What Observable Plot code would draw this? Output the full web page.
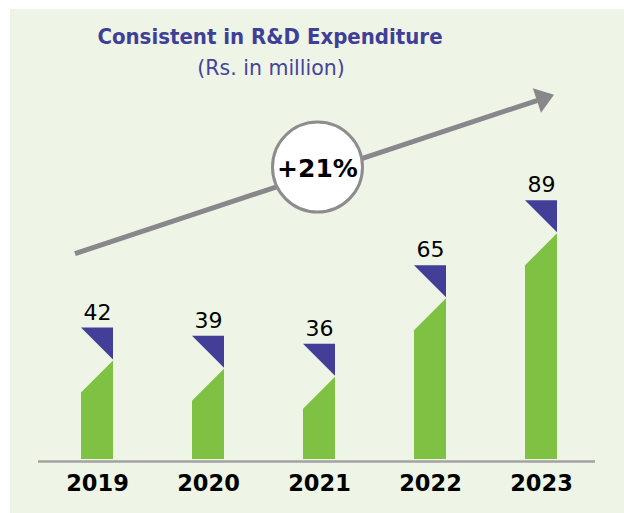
<!DOCTYPE html>
<html><head><meta charset="utf-8">
<script src="https://cdn.jsdelivr.net/npm/d3@7"></script>
<script src="https://cdn.jsdelivr.net/npm/@observablehq/plot@0.6"></script>
<style>
html,body{margin:0;padding:0;background:#fff;}
#wrap{position:relative;width:624px;height:513px;overflow:hidden;font-family:"DejaVu Sans",sans-serif;}
#panel{position:absolute;left:10px;top:9px;width:614px;height:504px;background:#eef4e6;}
#title{position:absolute;left:0;width:540px;top:26px;text-align:center;font-weight:bold;font-size:22px;line-height:22px;color:#3f3f98;font-family:"DejaVu Sans Condensed","DejaVu Sans",sans-serif;font-stretch:condensed;white-space:nowrap;}
#subtitle{position:absolute;left:0;width:542px;top:58px;text-align:center;font-size:20.5px;line-height:20px;color:#45449b;white-space:nowrap;}
#chart{position:absolute;left:0;top:84px;}
</style></head>
<body><div id="wrap"><div id="panel"></div><div id="title">Consistent in R&amp;D Expenditure</div><div id="subtitle">(Rs. in million)</div><div id="chart"></div></div>
<script>
// ---- data ----
const years = ["2019", "2020", "2021", "2022", "2023"];
const expenditure = [42, 39, 36, 65, 89];
const growthLabel = "+21%";
const badgeYear = "2021";
const badgeValue = 101.5;
const arrowFrom = {year: "2019", value: 69.3};
const arrowTo = {year: "2023", value: 128};
const yMin = -6.6, yMax = 100;

const GREEN = "#7fc142", BLUE = "#433f98", GRAY = "#88888b";

const rows = years.map((year, i) => ({year, value: expenditure[i]}));
const badge = [{year: badgeYear, value: badgeValue, label: growthLabel}];

function bwOf(x) { return typeof x.bandwidth === "function" ? x.bandwidth() : x.bandwidth; }

function flagBars(index, scales) {
  const x = scales.x, y = scales.y, bw = bwOf(x);
  const g = d3.create("svg:g");
  rows.forEach(d => {
    const x0 = x(d.year), x1 = x0 + bw;
    const top = y(d.value), base = y(yMin);
    g.append("path").attr("fill", BLUE).attr("d", `M${x0},${top}H${x1}V${top + bw}Z`);
    g.append("path").attr("fill", GREEN).attr("d", `M${x0},${base}V${top + 2 * bw + 1}L${x1},${top + bw + 1}V${base}Z`);
  });
  return g.node();
}

function growthArrow(index, scales) {
  const x = scales.x, y = scales.y, bw = bwOf(x);
  const xs = x(arrowFrom.year) - 6, ys = y(arrowFrom.value);
  const xe = x(arrowTo.year) + bw - 3, ye = y(arrowTo.value);
  const len = Math.hypot(xe - xs, ye - ys), ux = (xe - xs) / len, uy = (ye - ys) / len;
  const headL = 18, headW = 13;
  const bx = xe - headL * ux, by = ye - headL * uy;
  const g = d3.create("svg:g");
  g.append("line").attr("x1", xs).attr("y1", ys).attr("x2", xe - 14 * ux).attr("y2", ye - 14 * uy)
    .attr("stroke", GRAY).attr("stroke-width", 5);
  g.append("path").attr("fill", GRAY)
    .attr("d", `M${xe},${ye}L${bx - headW * uy},${by + headW * ux}L${bx + headW * uy},${by - headW * ux}Z`);
  return g.node();
}

const chart = Plot.plot({
  width: 624,
  height: 429,
  marginLeft: 38,
  marginRight: 29,
  marginTop: 86.6,
  marginBottom: 54,
  style: {background: "transparent", overflow: "visible", fontFamily: "DejaVu Sans, sans-serif", color: "black"},
  x: {type: "band", domain: years, range: [40, 597], paddingInner: 0.714, paddingOuter: 0.346, axis: null},
  y: {domain: [yMin, yMax], axis: null},
  marks: [
    growthArrow,
    flagBars,
    Plot.ruleY([yMin], {stroke: "#a3a3a3", strokeWidth: 2.5, dy: 2}),
    Plot.text(rows, {x: "year", y: "value", text: d => String(d.value), dy: -8.5, lineAnchor: "bottom", fontSize: 22, fill: "black"}),
    Plot.text(years, {x: d => d, frameAnchor: "bottom", lineAnchor: "top", dy: 16, fontSize: 22.5, fontWeight: "bold", fill: "black"}),
    Plot.dot(badge, {x: "year", y: "value", r: 45, fill: "white", stroke: "#8d8d8f", strokeWidth: 3, dx: -2}),
    Plot.text(badge, {x: "year", y: "value", text: "label", fontSize: 25, fontWeight: "bold", fill: "black", dx: -2, dy: 1.5})
  ]
});
document.getElementById("chart").appendChild(chart);
</script>
</body></html>
